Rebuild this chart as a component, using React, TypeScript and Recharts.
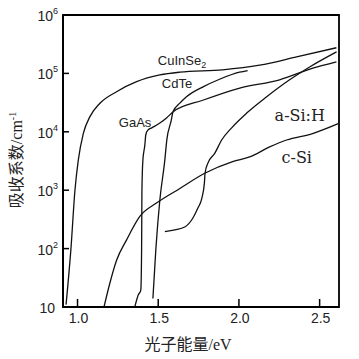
import React from 'react';
import { LineChart, Line, XAxis, YAxis, ReferenceArea, ReferenceDot } from 'recharts';

const xDomain = [0.91, 2.62];
const yDomain = [10, 1000000];
const xTicks = [1.0, 1.5, 2.0, 2.5];
const yTicks = [10, 100, 1000, 10000, 100000, 1000000];

// [photon energy eV, absorption coefficient cm^-1]
const cuInSe2 = [
  [0.929, 11], [0.959, 98], [0.984, 1000], [1.005, 3300], [1.036, 9400],
  [1.077, 18200], [1.139, 30800], [1.242, 48600], [1.366, 72100], [1.51, 94000],
  [1.634, 105000], [1.899, 115000], [2.128, 138000], [2.357, 191000], [2.604, 275000],
];
const cdTe = [
  [1.467, 14], [1.485, 95], [1.51, 680], [1.541, 3300], [1.553, 7200],
  [1.581, 15800], [1.591, 21900], [1.634, 30900], [1.675, 39800], [1.778, 58900],
  [1.88, 79400], [2.004, 105000], [2.054, 112000],
];
const gaAs = [
  [1.355, 10], [1.376, 16], [1.392, 19.5], [1.397, 95], [1.399, 1000],
  [1.405, 3300], [1.417, 5900], [1.423, 8900], [1.436, 10700], [1.46, 11700],
  [1.51, 14100], [1.553, 17400], [1.591, 21900], [1.776, 34700], [2.005, 56200],
  [2.252, 77600], [2.458, 123000], [2.604, 158000],
];
const aSiH = [
  [1.541, 195], [1.603, 209], [1.664, 234], [1.714, 331], [1.745, 490],
  [1.77, 724], [1.786, 1320], [1.79, 1950], [1.807, 2880], [1.85, 4270],
  [1.893, 7240], [1.955, 11700], [2.048, 20900], [2.172, 39800], [2.314, 77600],
  [2.438, 129000], [2.605, 234000],
];
const cSi = [
  [1.164, 10], [1.201, 26], [1.242, 63], [1.304, 141], [1.386, 355],
  [1.489, 603], [1.634, 1070], [1.788, 1950], [1.961, 3090], [2.066, 3720],
  [2.19, 5500], [2.295, 7240], [2.456, 9330], [2.615, 13800],
];

const seriesNames = ['CuInSe2', 'CdTe', 'GaAs', 'a-Si:H', 'c-Si'];
const seriesValues = [cuInSe2, cdTe, gaAs, aSiH, cSi];

const labelTexts = ['CuInSe', 'CdTe', 'GaAs', 'a-Si:H', 'c-Si'];
const labelSubs = ['2', '', '', '', ''];
const labelX = [1.4975, 1.522, 1.256, 2.221, 2.264];
const labelY = [169000, 68500, 14700, 19400, 3700];
const labelSerif = [false, false, false, true, true];

const SANS = '"Liberation Sans", Arial, Helvetica, sans-serif';
const SERIF = '"DejaVu Serif", "Liberation Serif", serif';
const CJK = '"Liberation Serif", "Noto Sans CJK SC", serif';

const XTick = (props: any) => {
  const { x, y, payload } = props;
  return (
    <g>
      <line x1={x} x2={x} y1={y} y2={y - 8} stroke="#000" strokeWidth={1.5} />
      <text x={x + 1} y={y + 16} textAnchor="middle" fontSize={14} fontFamily={SANS} fill="#222">
        {Number(payload.value).toFixed(1)}
      </text>
    </g>
  );
};

const YTick = (props: any) => {
  const { x, y, payload } = props;
  const exp = Math.round(Math.log10(payload.value));
  return (
    <g>
      <line x1={x} x2={x + 6} y1={y} y2={y} stroke="#000" strokeWidth={1.5} />
      {exp === 1 ? (
        <text x={x - 8} y={y + 6} textAnchor="end" fontSize={14} fontFamily={SANS} fill="#222">10</text>
      ) : (
        <text x={x - 5} y={y + 6} textAnchor="end" fontSize={14} fontFamily={SANS} fill="#222">
          10<tspan dy={-7} fontSize={9}>{exp}</tspan>
        </text>
      )}
    </g>
  );
};

const YTitle = (props: any) => {
  const vb = props.viewBox || { x: 0, y: 15, width: 63, height: 292 };
  const cx = vb.x + 16;
  const cy = 160;
  return (
    <text
      x={cx}
      y={cy}
      transform={`rotate(-90 ${cx} ${cy})`}
      textAnchor="middle"
      dy="0.35em"
      fontSize={16}
      fontFamily={CJK}
      fill="#222"
    >
      吸收系数/cm<tspan dy={-6} fontSize={10}>-1</tspan>
    </text>
  );
};

const XTitle = (props: any) => {
  const vb = props.viewBox || { x: 63, y: 307, width: 276, height: 52 };
  const cx = vb.x + vb.width / 2 - 13;
  return (
    <text x={cx} y={vb.y + 43} textAnchor="middle" fontSize={16} fontFamily={CJK} fill="#222">
      光子能量/eV
    </text>
  );
};

const makeLabelShape = (i: number) => (p: any) => (
  <text
    x={p.cx}
    y={p.cy}
    dy="0.35em"
    textAnchor="start"
    fontSize={labelSerif[i] ? 16 : 13}
    fontFamily={labelSerif[i] ? SERIF : SANS}
    fill="#222"
  >
    {labelTexts[i]}
    {labelSubs[i] ? <tspan dy={3} fontSize={9}>{labelSubs[i]}</tspan> : null}
  </text>
);

export default function App() {
  return (
    <div style={{ marginLeft: -8, marginTop: -8, width: 359, height: 359 }}>
      <LineChart width={359} height={359} margin={{ top: 15, right: 20, bottom: 0, left: 0 }}>
        <XAxis
          dataKey="x"
          type="number"
          domain={xDomain}
          ticks={xTicks}
          allowDataOverflow
          height={52}
          tickSize={0}
          tickMargin={0}
          tickLine={false}
          tick={<XTick />}
          axisLine={{ stroke: '#000', strokeWidth: 2 }}
          label={<XTitle />}
        />
        <YAxis
          dataKey="y"
          type="number"
          scale="log"
          domain={yDomain}
          ticks={yTicks}
          allowDataOverflow
          width={63}
          tickSize={0}
          tickMargin={0}
          tickLine={false}
          tick={<YTick />}
          axisLine={{ stroke: '#000', strokeWidth: 2 }}
          label={<YTitle />}
        />
        <ReferenceArea
          x1={xDomain[0]}
          x2={xDomain[1]}
          y1={yDomain[0]}
          y2={yDomain[1]}
          fill="none"
          fillOpacity={0}
          stroke="#000"
          strokeWidth={1.8}
        />
        {seriesValues.map((s, i) => (
          <Line
            key={seriesNames[i]}
            name={seriesNames[i]}
            data={s.map(([x, y]) => ({ x, y }))}
            dataKey="y"
            type="monotone"
            stroke="#111"
            strokeWidth={1.3}
            dot={false}
            activeDot={false}
            isAnimationActive={false}
          />
        ))}
        {labelTexts.map((t, i) => (
          <ReferenceDot
            key={t}
            x={labelX[i]}
            y={labelY[i]}
            r={0}
            ifOverflow="visible"
            shape={makeLabelShape(i)}
          />
        ))}
      </LineChart>
    </div>
  );
}
